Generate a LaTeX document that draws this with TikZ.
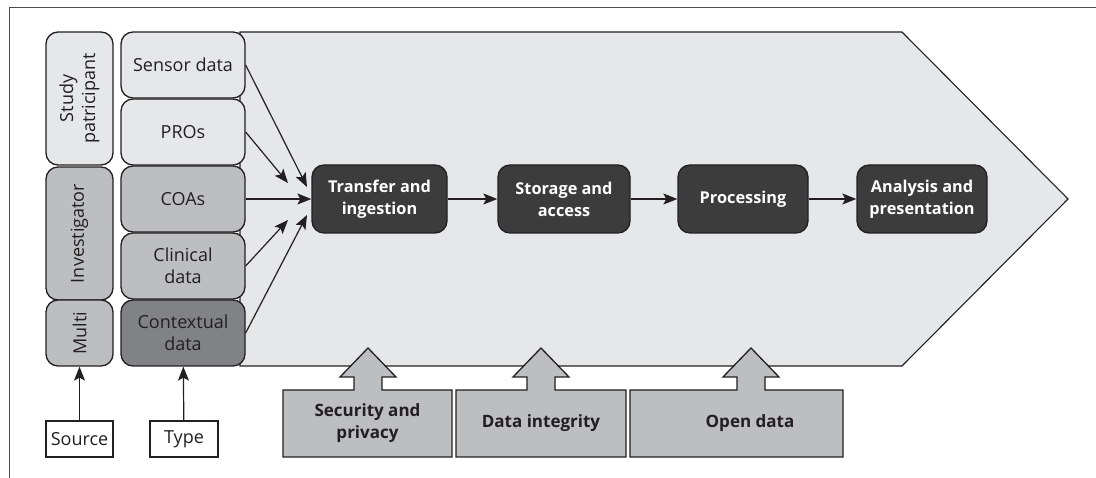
\documentclass[tikz,border=0pt]{standalone}
\usepackage{fontspec}
\setmainfont{Open Sans}
\usetikzlibrary{arrows.meta}
\definecolor{lightg}{HTML}{E6E7E8}
\definecolor{midg}{HTML}{BCBEC0}
\definecolor{darkg}{HTML}{808285}
\definecolor{procg}{HTML}{3C3C3C}
\definecolor{linec}{HTML}{231F20}
\tikzset{
  x=1pt,y=-1pt,
  every node/.style={font=\fontsize{18}{22}\selectfont, text=linec},
  tbox/.style={draw=linec, line width=1.3pt, rounded corners=12pt, minimum width=124pt, minimum height=66pt, align=center, inner sep=0pt},
  sbox/.style={draw=linec, line width=1.3pt, rounded corners=12pt, align=center, inner sep=0pt, rotate=90},
  pbox/.style={draw=linec, line width=1.3pt, fill=procg, rounded corners=12pt, minimum height=68pt, align=center, inner sep=0pt, text=white, font=\fontsize{16.3}{22}\selectfont\bfseries},
  gtext/.style={align=center, font=\fontsize{17}{22}\selectfont\bfseries},
  lbox/.style={draw=linec, line width=1.1pt, fill=white, minimum height=36pt, inner sep=0pt},
  conn/.style={draw=linec, line width=1.2pt, -{Stealth[length=14pt,width=11pt,inset=3pt]}},
  guard/.style={draw=linec, line width=1.3pt, fill=midg},
}
\begin{document}
\begin{tikzpicture}
\useasboundingbox (0,0) rectangle (1096,478);
% frame
\draw[line width=1pt, draw=linec!80] (9,478) -- (9,7.5) -- (1096,7.5);
% chevron
\draw[line width=1.1pt, draw=linec, fill=lightg] (240,32) -- (902,32) -- (1068,199) -- (902,366) -- (240,366) -- cycle;
% source column
\node[sbox, fill=lightg, minimum width=133pt, minimum height=67pt] (study) at (79.5,98.5) {Study\\patricipant};
\node[sbox, fill=midg, minimum width=133pt, minimum height=67pt] (inv) at (79.5,233.5) {Investigator};
\node[sbox, fill=midg, minimum width=66pt, minimum height=67pt] (multi) at (79.5,333) {Multi};
% type column
\node[tbox, fill=lightg] (sensor) at (183,65) {Sensor data};
\node[tbox, fill=lightg] (pros) at (183,132) {PROs};
\node[tbox, fill=midg] (coas) at (183,199) {COAs};
\node[tbox, fill=midg] (clin) at (183,266) {Clinical\\data};
\node[tbox, fill=darkg] (ctx) at (183,333) {Contextual\\data};
% process boxes
\node[pbox, minimum width=135pt] (transfer) at (379.5,199) {Transfer and\\ingestion};
\node[pbox, minimum width=132pt] (storage) at (564,199) {Storage and\\access};
\node[pbox, minimum width=130pt] (proc) at (743,199) {Processing};
\node[pbox, minimum width=130pt] (anal) at (922,199) {Analysis and\\presentation};
% connectors
\coordinate (t1) at (307,187);
\coordinate (t2) at (288,183);
\coordinate (t4) at (288,220);
\coordinate (t5) at (307,215);
\draw[conn] (sensor.east) -- (t1);
\draw[conn] (pros.east) -- (t2);
\draw[conn] (coas.east) -- (transfer.west);
\draw[conn] (clin.east) -- (t4);
\draw[conn] (ctx.east) -- (t5);
\draw[conn] (transfer) -- (storage);
\draw[conn] (storage) -- (proc);
\draw[conn] (proc) -- (anal);
% guard arrows
\draw[guard] (283,457) -- (283,390) -- (354,390) -- (354,377) -- (340,377) -- (368,348) -- (396,377) -- (382,377) -- (382,390) -- (452,390) -- (452,457) -- cycle;
\node[gtext] (sec) at (367.5,423.5) {Security and\\privacy};
\draw[guard] (456,457) -- (456,390) -- (527,390) -- (527,377) -- (513,377) -- (541,348) -- (569,377) -- (555,377) -- (555,390) -- (626,390) -- (626,457) -- cycle;
\node[gtext] (integ) at (541,423.5) {Data integrity};
\draw[guard] (630,457) -- (630,390) -- (737,390) -- (737,377) -- (723,377) -- (751,348) -- (779,377) -- (765,377) -- (765,390) -- (843,390) -- (843,457) -- cycle;
\node[gtext] (open) at (750,423.5) {Open data};
% labels
\node[lbox, minimum width=67pt] (source) at (79.5,439) {Source};
\node[lbox, minimum width=68pt] (type) at (184,439) {Type};
\draw[conn] (source) -- (multi);
\draw[conn] (type) -- (ctx);
\end{tikzpicture}
\end{document}
